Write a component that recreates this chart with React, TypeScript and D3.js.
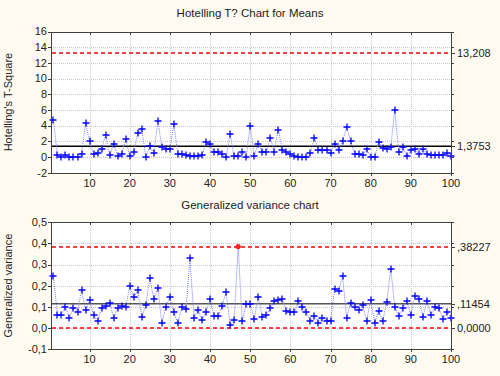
import React from "react";
import * as d3 from "d3";

const t2Values: number[] = [
  4.75, 0.3, 0.0, 0.3, 0.05, 0.0, 0.0, 0.35, 4.3, 2.1,
  0.4, 0.5, 1.05, 2.85, 0.2, 1.7, 0.1, 0.4, 2.25, 0.1,
  0.6, 3.05, 3.55, 0.0, 1.35, 0.5, 4.65, 1.25, 1.0, 1.0,
  4.25, 0.35, 0.35, 0.2, 0.1, 0.1, 0.1, 0.2, 1.9, 1.6,
  0.6, 0.6, 0.4, 0.0, 2.9, 0.1, 0.1, 0.65, 0.0, 4.0,
  0.1, 1.7, 0.7, 0.6, 2.45, 0.65, 3.5, 0.95, 0.65, 0.35,
  0.1, 0.0, 0.0, 0.0, 0.5, 2.45, 0.85, 0.85, 0.85, 0.5,
  1.7, 0.95, 2.05, 3.8, 2.05, 0.4, 0.35, 0.2, 1.0, 0.0,
  0.0, 1.9, 1.2, 1.05, 1.3, 6.0, 0.65, 1.25, 0.1, 0.85,
  1.05, 0.35, 1.05, 0.4, 0.2, 0.3, 0.2, 0.3, 0.5, 0.1,
];

const gvValues: number[] = [
  0.245, 0.063, 0.063, 0.1, 0.047, 0.095, 0.076, 0.178, 0.084, 0.131,
  0.06, 0.032, 0.092, 0.105, 0.118, 0.049, 0.092, 0.103, 0.1, 0.197,
  0.144, 0.178, 0.052, 0.107, 0.234, 0.136, 0.191, 0.021, 0.1, 0.147,
  0.073, 0.021, 0.1, 0.088, 0.329, 0.047, 0.087, 0.036, 0.076, 0.136,
  0.055, 0.055, 0.103, 0.171, 0.013, 0.036, 0.385, 0.032, 0.111, 0.115,
  0.04, 0.147, 0.052, 0.06, 0.092, 0.126, 0.131, 0.136, 0.08, 0.073,
  0.073, 0.126, 0.1, 0.073, 0.033, 0.055, 0.024, 0.049, 0.033, 0.033,
  0.182, 0.174, 0.245, 0.049, 0.118, 0.1, 0.087, 0.107, 0.033, 0.134,
  0.024, 0.08, 0.033, 0.123, 0.281, 0.1, 0.055, 0.092, 0.126, 0.06,
  0.15, 0.139, 0.052, 0.126, 0.06, 0.1, 0.092, 0.044, 0.076, 0.049,
];

const xTicks = [10, 20, 30, 40, 50, 60, 70, 80, 90, 100];
const t2Ticks = [-2, 0, 2, 4, 6, 8, 10, 12, 14, 16];
const gvTicks = [-0.1, 0, 0.1, 0.2, 0.3, 0.4, 0.5];
const t2Limits = { ucl: 13.208, center: 1.3753 };
const gvLimits = { ucl: 0.38227, center: 0.11454, lcl: 0.0 };
const t2LimitLabels = ["13,208", "1,3753"];
const gvLimitLabels = [",38227", ",11454", "0,0000"];

const W = 500;
const H = 376;
const BG = "#fffbf0";
const FONT = "'Liberation Sans', Arial, sans-serif";

const px = (v: number) => Math.round(v) + 0.5;

function Plus({ x, y, color }: { x: number; y: number; color: string }) {
  const a = 3.5;
  const cx = Math.round(x);
  const cy = Math.round(y);
  return (
    <path
      d={`M${cx - a},${cy}H${cx + a}M${cx},${cy - a}V${cy + a}`}
      stroke={color}
      strokeWidth={1.3}
    />
  );
}

function Panel(props: {
  values: number[];
  top: number;
  bottom: number;
  yDomain: [number, number];
  yTicks: number[];
  fmt: (v: number) => string;
  ucl: number;
  center: number;
  lcl?: number;
  centerColor: string;
  limitLabels: string[];
  ylabel: string;
  title: string;
  titleY: number;
}) {
  const { values, top, bottom, yDomain, yTicks, fmt, ucl, center, lcl, centerColor, limitLabels, ylabel, title, titleY } = props;
  const left = 51;
  const right = 451;
  const x = d3.scaleLinear().domain([0.4, 100]).range([left, right]);
  const y = d3.scaleLinear().domain(yDomain).range([bottom, top]);
  const line = d3
    .line<number>()
    .x((_, i) => x(i + 1))
    .y((d) => y(d));
  const limitVals = lcl !== undefined ? [ucl, center, lcl] : [ucl, center];
  const redLines = lcl !== undefined ? [ucl, lcl] : [ucl];
  return (
    <g>
      <text x={250} y={titleY} textAnchor="middle" fontFamily={FONT} fontSize={11.5} fill="#222">
        {title}
      </text>
      <rect x={left + 0.5} y={px(top)} width={right - left} height={px(bottom) - px(top)} fill="#fff" />
      <g shapeRendering="crispEdges">
        {xTicks.map((t) => (
          <line key={"gx" + t} x1={px(x(t))} x2={px(x(t))} y1={top} y2={bottom} stroke="#c8c8c8" strokeDasharray="1,1" />
        ))}
        {yTicks.map((t) => (
          <line key={"gy" + t} x1={left} x2={right} y1={px(y(t))} y2={px(y(t))} stroke="#c8c8c8" strokeDasharray="1,1" />
        ))}
      </g>
      {redLines.map((v, i) => (
        <line
          key={"red" + i}
          x1={left + 1}
          x2={right}
          y1={Math.round(y(v))}
          y2={Math.round(y(v))}
          stroke="#ff0000"
          strokeWidth={2}
          strokeOpacity={0.75}
          strokeDasharray="4,3"
        />
      ))}
      <line x1={left} x2={right} y1={y(center)} y2={y(center)} stroke={centerColor} strokeWidth={1.4} />
      <path d={line(values) || ""} fill="none" stroke="#7c7cff" strokeWidth={1} strokeDasharray="1,1" />
      {values.map((v, i) =>
        v > ucl ? (
          <circle key={i} cx={x(i + 1)} cy={y(v)} r={2.6} fill="#ff2020" />
        ) : (
          <Plus key={i} x={x(i + 1)} y={y(v)} color="#0000ff" />
        )
      )}
      <g shapeRendering="crispEdges">
        <rect x={left + 0.5} y={px(top)} width={right - left} height={px(bottom) - px(top)} fill="none" stroke="#404040" strokeWidth={1} />
        {yTicks.map((t) => (
          <g key={"yt" + t}>
            <line x1={left - 3} x2={left} y1={px(y(t))} y2={px(y(t))} stroke="#404040" />
            <line x1={right} x2={right + 3} y1={px(y(t))} y2={px(y(t))} stroke="#404040" />
          </g>
        ))}
        {xTicks.map((t) => (
          <g key={"xt" + t}>
            <line x1={px(x(t))} x2={px(x(t))} y1={bottom} y2={bottom + 3} stroke="#404040" />
            <line x1={px(x(t))} x2={px(x(t))} y1={top} y2={top + 3} stroke="#404040" />
          </g>
        ))}
        {limitVals.map((v, i) => (
          <line key={"lt" + i} x1={right} x2={right + 4} y1={px(y(v))} y2={px(y(v))} stroke="#404040" />
        ))}
      </g>
      {yTicks.map((t) => (
        <text key={"yl" + t} x={left - 4} y={y(t)} dy="0.35em" textAnchor="end" fontFamily={FONT} fontSize={11} fill="#222">
          {fmt(t)}
        </text>
      ))}
      {xTicks.map((t) => (
        <text key={"xl" + t} x={x(t)} y={bottom + 14} textAnchor="middle" fontFamily={FONT} fontSize={11} fill="#222">
          {t}
        </text>
      ))}
      {limitVals.map((v, i) => (
        <text key={"lim" + i} x={right + 6} y={y(v)} dy="0.35em" fontFamily={FONT} fontSize={11} fill="#222">
          {limitLabels[i]}
        </text>
      ))}
      <text
        transform={`translate(12,${(top + bottom) / 2}) rotate(-90)`}
        textAnchor="middle"
        fontFamily={FONT}
        fontSize={11}
        fill="#222"
      >
        {ylabel}
      </text>
    </g>
  );
}

const commaFmt = (digits: number) => (v: number) => v.toFixed(digits).replace(".", ",");

export default function App() {
  return (
    <svg width={W} height={H} style={{ position: "absolute", left: 0, top: 0, background: BG }}>
      <rect width={W} height={H} fill={BG} />
      <Panel
        values={t2Values}
        top={31.5}
        bottom={172.7}
        yDomain={[-2, 16]}
        yTicks={t2Ticks}
        fmt={(v) => String(v)}
        ucl={t2Limits.ucl}
        center={t2Limits.center}
        centerColor="#000"
        limitLabels={t2LimitLabels}
        ylabel="Hotelling's T-Square"
        title="Hotelling T? Chart for Means"
        titleY={17}
      />
      <Panel
        values={gvValues}
        top={222.3}
        bottom={349}
        yDomain={[-0.1, 0.5]}
        yTicks={gvTicks}
        fmt={commaFmt(1)}
        ucl={gvLimits.ucl}
        center={gvLimits.center}
        lcl={gvLimits.lcl}
        centerColor="#555"
        limitLabels={gvLimitLabels}
        ylabel="Generalized variance"
        title="Generalized variance chart"
        titleY={209}
      />
    </svg>
  );
}
